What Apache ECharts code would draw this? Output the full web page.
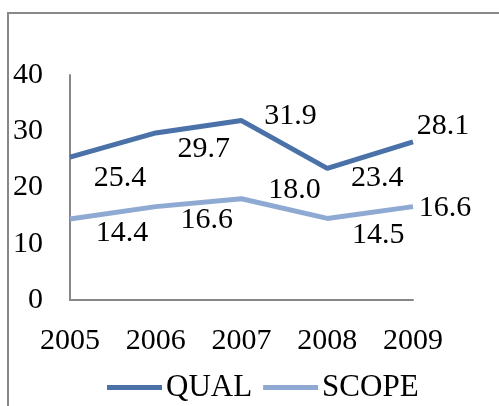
<!DOCTYPE html>
<html>
<head>
<meta charset="utf-8">
<script src="https://cdn.jsdelivr.net/npm/echarts@6/dist/echarts.min.js"></script>
<style>
html,body{margin:0;padding:0;background:#fff;}
#c{width:499px;height:406px;}
</style>
</head>
<body>
<div id="c"></div>
<script>
var categories = ['2005', '2006', '2007', '2008', '2009'];
var qualValues = [25.4, 29.7, 31.9, 23.4, 28.1];
var scopeValues = [14.4, 16.6, 18.0, 14.5, 16.6];
var seriesNames = ['QUAL', 'SCOPE'];

// label offsets (style only)
var qualLabelOffsets = [[50, 21], [48, 16], [49, -4], [50, 10], [30, -16]];
var scopeLabelOffsets = [[52, 14], [51, 13], [53, -9], [51, 17], [32, 1]];

var FONT = '"Liberation Serif", "Times New Roman", serif';

function build(vals, offs) {
  return vals.map(function (v, i) {
    return { value: v, label: { offset: offs[i] } };
  });
}

var chart = echarts.init(document.getElementById('c'), null, { renderer: 'canvas' });
chart.setOption({
  animation: false,
  backgroundColor: '#fff',
  graphic: [{
    type: 'rect',
    shape: { x: 8, y: 13, width: 600, height: 500 },
    style: { fill: 'none', stroke: '#888', lineWidth: 2 },
    silent: true
  }],
  grid: { left: 70, right: 86, top: 75, bottom: 106 },
  xAxis: {
    type: 'category',
    data: categories,
    boundaryGap: false,
    axisLine: { lineStyle: { color: '#878787', width: 2 } },
    axisTick: { show: false },
    axisLabel: { color: '#000', fontFamily: FONT, fontSize: 30, margin: 26 },
    splitLine: { show: false }
  },
  yAxis: {
    type: 'value',
    min: 0, max: 40, interval: 10,
    axisLine: { show: true, lineStyle: { color: '#878787', width: 2 } },
    axisTick: { show: false },
    axisLabel: { color: '#000', fontFamily: FONT, fontSize: 30, margin: 27 },
    splitLine: { show: false }
  },
  legend: {
    data: seriesNames,
    left: 102,
    top: 367,
    icon: 'rect',
    itemWidth: 55,
    itemHeight: 5,
    itemGap: 11,
    textStyle: { color: '#000', fontFamily: FONT, fontSize: 31, padding: [0, 0, 0, -1] }
  },
  series: [
    {
      name: seriesNames[0],
      type: 'line',
      data: build(qualValues, qualLabelOffsets),
      color: '#4A72A8',
      symbol: 'circle',
      symbolSize: 0,
      lineStyle: { color: '#4A72A8', width: 5 },
      itemStyle: { color: '#4A72A8' },
      label: { show: true, position: 'inside', color: '#000', fontFamily: FONT, fontSize: 30, formatter: function (p) { return p.value.toFixed(1); } }
    },
    {
      name: seriesNames[1],
      type: 'line',
      data: build(scopeValues, scopeLabelOffsets),
      color: '#8FAAD2',
      symbol: 'circle',
      symbolSize: 0,
      lineStyle: { color: '#8FAAD2', width: 5 },
      itemStyle: { color: '#8FAAD2' },
      label: { show: true, position: 'inside', color: '#000', fontFamily: FONT, fontSize: 30, formatter: function (p) { return p.value.toFixed(1); } }
    }
  ]
});
</script>
</body>
</html>
